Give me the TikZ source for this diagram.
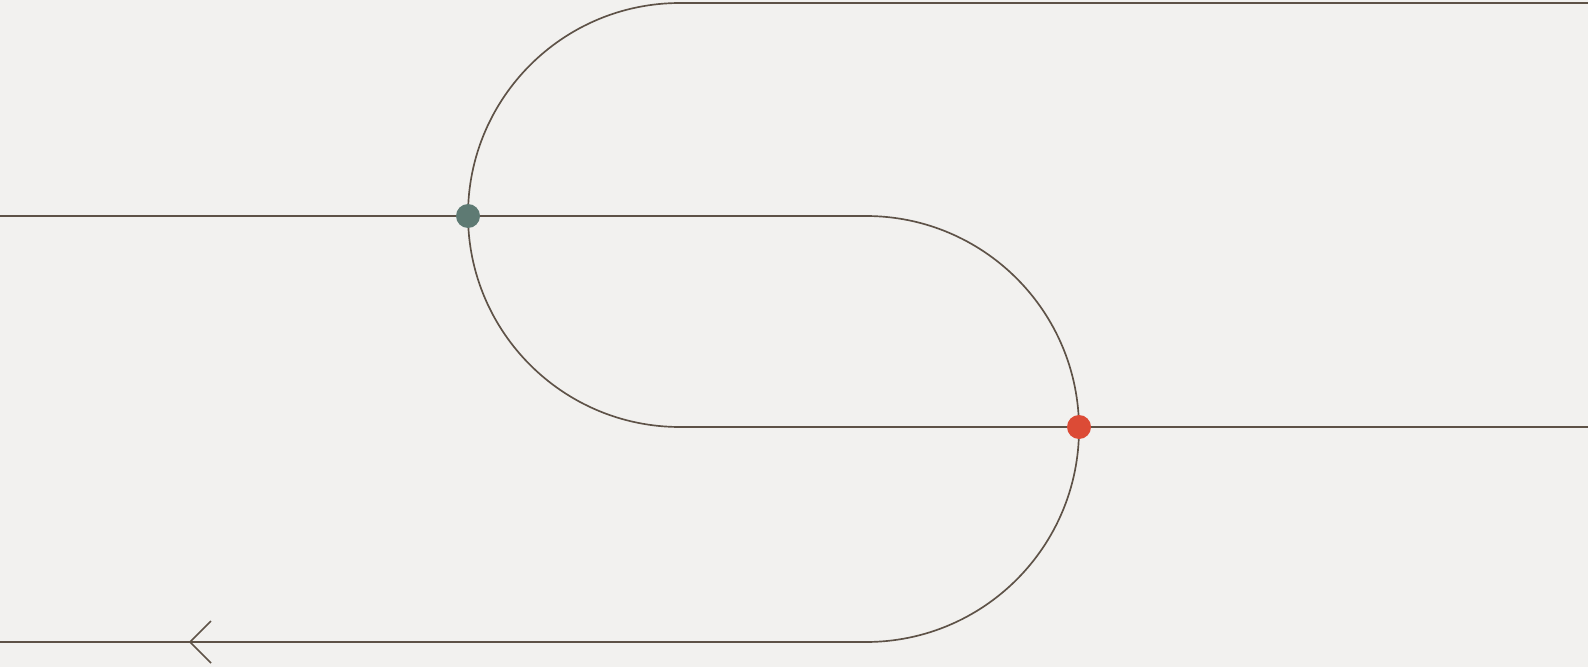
\documentclass[tikz,border=0pt]{standalone}
\usetikzlibrary{arrows.meta,positioning}

\definecolor{paper}{HTML}{F2F1EF}
\definecolor{ink}{HTML}{5E5247}
\definecolor{sage}{HTML}{5E7A73}
\definecolor{tomato}{HTML}{DC4B36}

\begin{document}
\begin{tikzpicture}[x=0.02cm,y=0.02cm,
  track/.style={draw=ink,line width=0.95pt},
  dot/.style={circle,inner sep=0pt,minimum size=0.48cm}]
\fill[paper] (0,0) rectangle (1588,667);
\useasboundingbox (0,0) rectangle (1588,667);
% points along the tracks
\coordinate (topR) at (1588,664);
\coordinate (topL) at (680,664);
\coordinate (merge) at (468,451);
\coordinate (midL) at (0,451);
\coordinate (midR) at (866,451);
\coordinate (split) at (1079,240);
\coordinate (lowR) at (1588,240);
\coordinate (botL) at (0,25);
\coordinate (tip) at (190,25);
% upper track
\draw[track] (topR) -- (topL) arc[start angle=90,end angle=270,radius=212] -- (split) -- (lowR);
% lower track
\draw[track] (midL) -- (merge) -- (midR) arc[start angle=90,end angle=-90,radius=213] -- (tip) -- (botL);
\draw[track] (tip) ++(21,21) -- (tip) -- ++(21,-21);
% junctions
\node[dot,fill=sage] (mergedot) at (merge) {};
\node[dot,fill=tomato] (splitdot) at (split) {};
\end{tikzpicture}
\end{document}
